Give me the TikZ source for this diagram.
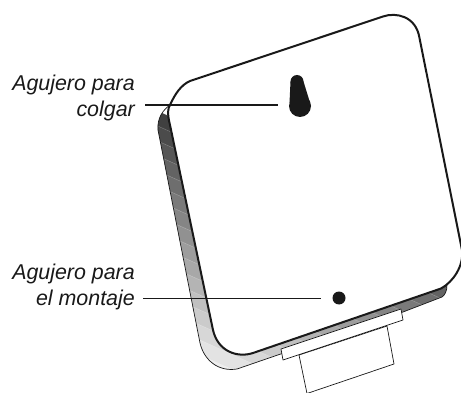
\documentclass[tikz,border=0pt]{standalone}
\usepackage{fontspec}
\setmainfont{Liberation Sans}
\tikzset{
  label text/.style={font=\fontsize{21.4}{25.5}\selectfont\itshape, align=right, anchor=east, inner sep=0pt, text=black!90},
  leader/.style={draw=black!90, line width=1.8pt},
  body edge/.style={draw=black!90, line width=2pt, fill=white, line join=round},
  thin edge/.style={draw=black!90, line width=0.7pt, line join=round},
  hole/.style={circle, fill=black!90, inner sep=0pt, minimum size=#1},
}
\begin{document}
\begin{tikzpicture}[x=1pt,y=-1pt]
\useasboundingbox (0,0) rectangle (461,393);
\clip (0,0) rectangle (461,393);
\def\bandpath{(170,105) .. controls (163,110) and (157,118) .. (158,130) -- (200,343)
  .. controls (204,360) and (218,372) .. (237,369) -- (403,312) -- (442,297)
  .. controls (445,295) and (447,291) .. (447,285) -- (300,200) -- cycle}
% shaded side band
\begin{scope}
  \clip \bandpath;
  \foreach \c in {40,55,...,295}{
    \pgfmathsetmacro{\g}{min(97,28+(\c-50)/230*70)}
    \pgfmathsetmacro{\cn}{\c+15.5}
    \fill[fill=white!\g!black]
      (140,{\c+.45*140}) -- (470,{\c+.45*470}) -- (470,{\cn+.45*470}) -- (140,{\cn+.45*140}) -- cycle;
    \draw[white, opacity=.35, line width=.3pt] (140,{\c+.45*140}) -- (470,{\c+.45*470});
  }
\end{scope}
\draw[thin edge] (170,105) .. controls (163,110) and (157,118) .. (158,130) -- (200,343)
  .. controls (204,360) and (218,372) .. (237,369) -- (403,312) -- (442,297)
  .. controls (445,295) and (447,291) .. (447,285);
% bracket
\draw[thin edge, fill=white] (299,355) -- (307,393.5) -- (394,364) -- (387,326) -- cycle;
% front face
\path[body edge] (190,81) -- (383,16.5) .. controls (396,12) and (416,16) .. (419.5,38)
  -- (462,250) .. controls (464,266) and (453,282) .. (441,288.5)
  -- (253,353) .. controls (238,358) and (218,352) .. (213,330)
  -- (170,125) .. controls (167,113) and (168,108) .. (170,105)
  .. controls (175,94) and (181,85) .. (190,81) -- cycle;
\draw[thin edge, fill=white] (281,349) -- (401,309) -- (403,320) -- (283,360) -- cycle;
% keyhole
\node[hole=13pt] (lobe) at (297,81.5) {};
\node[hole=22pt] (bulb) at (300,106) {};
\fill[black!90] (290.5,81.5) -- (303.5,81.5) -- (309.5,101) -- (289.5,103) -- cycle;
% mounting hole
\node[hole=13pt] (mount) at (339,298) {};
% labels and leaders
\node[label text] (hang) at (135,98) {Agujero para\\colgar};
\node[label text] (fix) at (135,287) {Agujero para\\el montaje};
\coordinate (hangstart) at (145,105);
\coordinate (hangend) at (278,105);
\coordinate (fixstart) at (143,298.5);
\coordinate (fixend) at (321,298.5);
\draw[leader] (hangstart) -- (hangend);
\draw[leader] (fixstart) -- (fixend);
\end{tikzpicture}
\end{document}
